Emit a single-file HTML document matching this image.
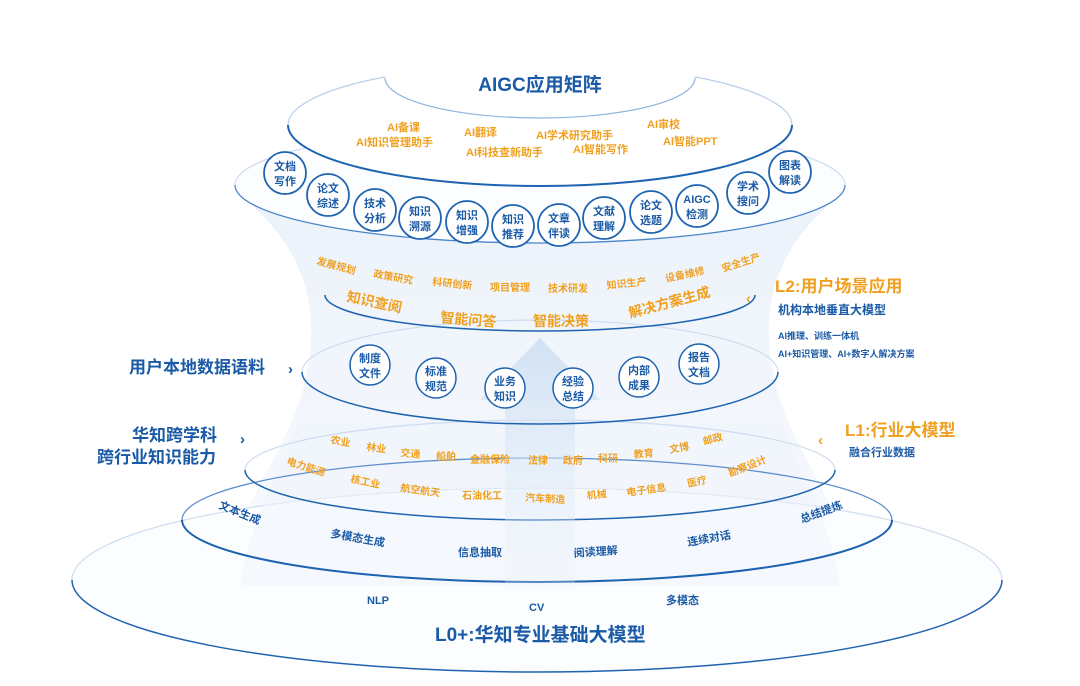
<!DOCTYPE html>
<html><head><meta charset="utf-8"><style>
html,body{margin:0;padding:0;background:#fff;}
svg{display:block;}
text{font-family:"Liberation Sans","Noto Sans CJK SC",sans-serif;font-weight:bold;}
.o{fill:#f0a020;font-size:11px;}
.b{fill:#1a5aa6;font-size:11px;}
.c{fill:#1a5aa6;font-size:11px;text-anchor:middle;}
.bot{fill:none;stroke:#1e63b0;stroke-width:2;}
.top{fill:none;stroke:#cddcef;stroke-width:1.2;}
</style></head><body>
<svg width="1080" height="686" viewBox="0 0 1080 686" xmlns="http://www.w3.org/2000/svg">
<defs>
<linearGradient id="fun" x1="0" y1="0" x2="0" y2="1">
<stop offset="0" stop-color="#e6eef9"/><stop offset="1" stop-color="#f6f9fd"/>
</linearGradient>
<linearGradient id="arr" x1="0" y1="0" x2="0" y2="1">
<stop offset="0" stop-color="#c9dcf1"/><stop offset="1" stop-color="#eef4fb" stop-opacity="0.3"/>
</linearGradient>
</defs>
<!-- funnel background -->
<path d="M240,195 C320,260 320,330 300,400 C280,460 230,520 225,590 L855,590 C850,520 800,460 780,400 C760,330 760,260 840,195 Z" fill="url(#fun)" opacity="0.75"/>
<!-- outer base -->
<ellipse cx="537" cy="580" rx="465" ry="92" fill="#fcfdff" stroke="none"/>
<path class="top" d="M72,580 A465,92 0 0 1 1002,580"/>
<path class="bot" style="stroke-width:1.5" d="M72,580 A465,92 0 0 0 1002,580"/>
<path d="M240,585 L840,585 C830,520 800,470 780,420 L300,420 C280,470 250,520 240,585Z" fill="#eef4fb" opacity="0.55"/>
<path d="M182,520 A355,62 0 0 1 892,520" fill="none" stroke="#5e8fcc" stroke-width="1.3"/>
<path class="bot" d="M182,520 A355,62 0 0 0 892,520"/>
<path class="top" d="M245,470 A295,50 0 0 1 835,470"/>
<path class="bot" style="stroke-width:1.5" d="M245,470 A295,50 0 0 0 835,470"/>
<!-- arrow -->
<path d="M540,338 L600,400 L575,400 L575,590 L505,590 L505,400 L480,400 Z" fill="url(#arr)" opacity="0.8"/>
<path class="top" d="M302,372 A238,52 0 0 1 778,372"/>
<path class="bot" style="stroke-width:1.5" d="M302,372 A238,52 0 0 0 778,372"/>
<path class="bot" style="stroke-width:1.5" d="M325,295 A215,36 0 0 0 755,295"/>
<!-- top -->
<ellipse cx="540" cy="185" rx="305" ry="58" fill="#fcfdff" stroke="none"/>
<path class="top" d="M235,185 A305,58 0 0 1 845,185"/>
<path fill="none" stroke="#4a86c8" stroke-width="1.3" d="M235,185 A305,58 0 0 0 845,185"/>
<ellipse cx="540" cy="125" rx="252" ry="61" fill="#fff"/>
<path fill="none" stroke="#b8cfea" stroke-width="1.2" d="M288,125 A252,61 0 0 1 792,125"/>
<path class="bot" d="M288,125 A252,61 0 0 0 792,125"/>
<ellipse cx="540" cy="78" rx="155" ry="40" fill="#fff"/>
<path fill="none" stroke="#8fb3de" stroke-width="1.2" d="M385,78 A155,40 0 0 0 695,78"/>
<text x="540" y="91" text-anchor="middle" style="font-size:19px;fill:#1a5aa6">AIGC应用矩阵</text>
<text class="o" x="387" y="131">AI备课</text>
<text class="o" x="356" y="146">AI知识管理助手</text>
<text class="o" x="464" y="136">AI翻译</text>
<text class="o" x="536" y="139">AI学术研究助手</text>
<text class="o" x="466" y="156">AI科技查新助手</text>
<text class="o" x="573" y="153">AI智能写作</text>
<text class="o" x="647" y="128">AI审校</text>
<text class="o" x="663" y="145">AI智能PPT</text>
<!-- circles -->
<g fill="#fff" stroke="#1e63b0" stroke-width="1.8">
<circle cx="285" cy="173" r="21"/><circle cx="328" cy="195" r="21"/><circle cx="375" cy="210" r="21"/>
<circle cx="420" cy="218" r="21"/><circle cx="467" cy="222" r="21"/><circle cx="513" cy="226" r="21"/>
<circle cx="559" cy="225" r="21"/><circle cx="604" cy="218" r="21"/><circle cx="651" cy="212" r="21"/>
<circle cx="697" cy="206" r="21"/><circle cx="748" cy="193" r="21"/><circle cx="790" cy="172" r="21"/>
</g>
<text class="c" x="285" y="170">文档</text><text class="c" x="285" y="185">写作</text>
<text class="c" x="328" y="192">论文</text><text class="c" x="328" y="207">综述</text>
<text class="c" x="375" y="207">技术</text><text class="c" x="375" y="222">分析</text>
<text class="c" x="420" y="215">知识</text><text class="c" x="420" y="230">溯源</text>
<text class="c" x="467" y="219">知识</text><text class="c" x="467" y="234">增强</text>
<text class="c" x="513" y="223">知识</text><text class="c" x="513" y="238">推荐</text>
<text class="c" x="559" y="222">文章</text><text class="c" x="559" y="237">伴读</text>
<text class="c" x="604" y="215">文献</text><text class="c" x="604" y="230">理解</text>
<text class="c" x="651" y="209">论文</text><text class="c" x="651" y="224">选题</text>
<text class="c" x="697" y="203">AIGC</text><text class="c" x="697" y="218">检测</text>
<text class="c" x="748" y="190">学术</text><text class="c" x="748" y="205">搜问</text>
<text class="c" x="790" y="169">图表</text><text class="c" x="790" y="184">解读</text>
<!-- L2 text -->
<text class="o" x="316" y="264" style="font-size:10px" transform="rotate(15 316 264)">发展规划</text>
<text class="o" x="373" y="277" style="font-size:10px" transform="rotate(10 373 277)">政策研究</text>
<text class="o" x="432" y="285" style="font-size:10px" transform="rotate(6 432 285)">科研创新</text>
<text class="o" x="490" y="291" style="font-size:10px">项目管理</text>
<text class="o" x="548" y="292" style="font-size:10px">技术研发</text>
<text class="o" x="607" y="289" style="font-size:10px" transform="rotate(-6 607 289)">知识生产</text>
<text class="o" x="666" y="282" style="font-size:10px" transform="rotate(-12 666 282)">设备维修</text>
<text class="o" x="723" y="272" style="font-size:10px" transform="rotate(-18 723 272)">安全生产</text>
<text class="o" x="346" y="301" style="font-size:14px" transform="rotate(12 346 301)">知识查阅</text>
<text class="o" x="440" y="322" style="font-size:14px" transform="rotate(5 440 322)">智能问答</text>
<text class="o" x="533" y="326" style="font-size:14px">智能决策</text>
<text class="o" x="630" y="318" style="font-size:14px" transform="rotate(-15 630 318)">解决方案生成</text>
<text x="775" y="292" style="font-size:17px;fill:#f0a020">L2:用户场景应用</text>
<text class="b" x="778" y="314" style="font-size:12px">机构本地垂直大模型</text>
<text class="b" x="778" y="339" style="font-size:9px">AI推理、训练一体机</text>
<text class="b" x="778" y="357" style="font-size:9px">AI+知识管理、AI+数字人解决方案</text>
<text x="746" y="303" style="font-size:14px;fill:#f0a020">‹</text>
<!-- data circles -->
<g fill="#fff" stroke="#1e63b0" stroke-width="1.5">
<circle cx="370" cy="365" r="20"/><circle cx="436" cy="378" r="20"/><circle cx="505" cy="388" r="20"/>
<circle cx="573" cy="388" r="20"/><circle cx="639" cy="377" r="20"/><circle cx="699" cy="364" r="20"/>
</g>
<text class="c" x="370" y="362">制度</text><text class="c" x="370" y="377">文件</text>
<text class="c" x="436" y="375">标准</text><text class="c" x="436" y="390">规范</text>
<text class="c" x="505" y="385">业务</text><text class="c" x="505" y="400">知识</text>
<text class="c" x="573" y="385">经验</text><text class="c" x="573" y="400">总结</text>
<text class="c" x="639" y="374">内部</text><text class="c" x="639" y="389">成果</text>
<text class="c" x="699" y="361">报告</text><text class="c" x="699" y="376">文档</text>
<text x="129" y="373" style="font-size:17px;fill:#1a5aa6">用户本地数据语料</text>
<text x="288" y="374" style="font-size:15px;fill:#1a5aa6">›</text>
<text x="132" y="441" style="font-size:17px;fill:#1a5aa6">华知跨学科</text>
<text x="97" y="463" style="font-size:17px;fill:#1a5aa6">跨行业知识能力</text>
<text x="240" y="444" style="font-size:15px;fill:#1a5aa6">›</text>
<text x="845" y="436" style="font-size:17px;fill:#f0a020">L1:行业大模型</text>
<text class="b" x="849" y="456">融合行业数据</text>
<text x="818" y="445" style="font-size:15px;fill:#f0a020">‹</text>
<!-- L1 words -->
<text class="o" style="font-size:10px" x="330" y="443" transform="rotate(10 330 443)">农业</text>
<text class="o" style="font-size:10px" x="366" y="450" transform="rotate(8 366 450)">林业</text>
<text class="o" style="font-size:10px" x="400" y="456" transform="rotate(6 400 456)">交通</text>
<text class="o" style="font-size:10px" x="436" y="460">船舶</text>
<text class="o" style="font-size:10px" x="470" y="463">金融保险</text>
<text class="o" style="font-size:10px" x="528" y="464">法律</text>
<text class="o" style="font-size:10px" x="563" y="464">政府</text>
<text class="o" style="font-size:10px" x="598" y="462">科研</text>
<text class="o" style="font-size:10px" x="634" y="458" transform="rotate(-5 634 458)">教育</text>
<text class="o" style="font-size:10px" x="670" y="453" transform="rotate(-10 670 453)">文博</text>
<text class="o" style="font-size:10px" x="704" y="445" transform="rotate(-15 704 445)">邮政</text>
<text class="o" style="font-size:10px" x="286" y="464" transform="rotate(18 286 464)">电力能源</text>
<text class="o" style="font-size:10px" x="350" y="482" transform="rotate(12 350 482)">核工业</text>
<text class="o" style="font-size:10px" x="400" y="491" transform="rotate(8 400 491)">航空航天</text>
<text class="o" style="font-size:10px" x="462" y="499">石油化工</text>
<text class="o" style="font-size:10px" x="525" y="501" transform="rotate(3 525 501)">汽车制造</text>
<text class="o" style="font-size:10px" x="587" y="499" transform="rotate(-5 587 499)">机械</text>
<text class="o" style="font-size:10px" x="627" y="496" transform="rotate(-8 627 496)">电子信息</text>
<text class="o" style="font-size:10px" x="688" y="487" transform="rotate(-12 688 487)">医疗</text>
<text class="o" style="font-size:10px" x="730" y="477" transform="rotate(-22 730 477)">勘察设计</text>
<!-- L0+ words -->
<text class="b" x="218" y="508" transform="rotate(22 218 508)">文本生成</text>
<text class="b" x="330" y="537" transform="rotate(10 330 537)">多模态生成</text>
<text class="b" x="458" y="556">信息抽取</text>
<text class="b" x="574" y="557" transform="rotate(-4 574 557)">阅读理解</text>
<text class="b" x="688" y="546" transform="rotate(-10 688 546)">连续对话</text>
<text class="b" x="802" y="523" transform="rotate(-20 802 523)">总结提炼</text>
<text class="b" x="367" y="604">NLP</text>
<text class="b" x="529" y="611">CV</text>
<text class="b" x="666" y="604">多模态</text>
<text x="435" y="641" style="font-size:19px;fill:#1a5aa6">L0+:华知专业基础大模型</text>
</svg>
</body></html>
